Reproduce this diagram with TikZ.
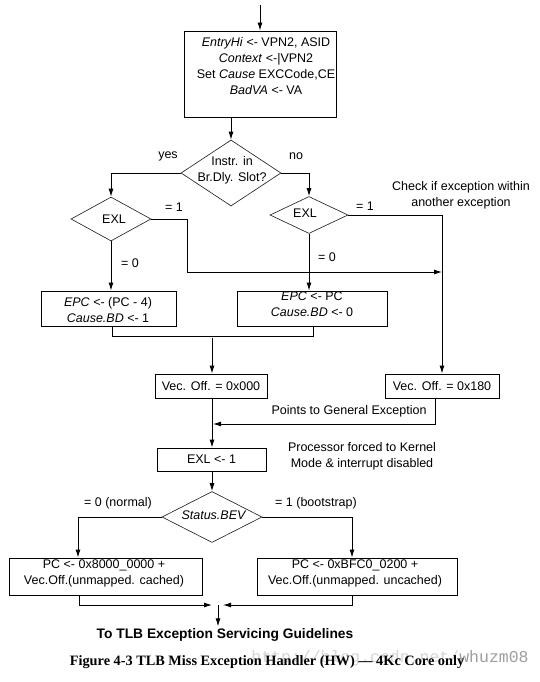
\documentclass[tikz,border=0pt]{standalone}
\usepackage{fontspec}
\setmainfont{Liberation Sans}
\newfontfamily\capfont{Liberation Serif}
\newfontfamily\wmfont{Liberation Mono}
\usetikzlibrary{shapes.geometric,arrows.meta}
\begin{document}
\begin{tikzpicture}[x=1pt,y=-1pt,
  every node/.style={font=\fontsize{12.5}{16}\selectfont},
  box/.style={draw, line width=0.9pt, inner sep=0pt},
  dia/.style={draw=black!85, diamond, line width=0.65pt, inner sep=0pt},
  lbl/.style={inner sep=0pt, align=center},
  ln/.style={line width=0.9pt},
  arr/.style={ln, -{Latex[length=8pt,width=5pt]}},
]
\useasboundingbox (0,0) rectangle (540,682);
\fill[white] (0,0) rectangle (540,682);

% top block
\coordinate (start) at (260,5);
\node[box, minimum width=152pt, minimum height=86pt] (b1) at (260,74) {};
\node[lbl] (b1t) at (266,66) {\textit{EntryHi} <- VPN2, ASID\\ \textit{Context} <-|VPN2\\ Set \textit{Cause} EXCCode,CE\\ \textit{BadVA} <- VA};
\draw[arr] (start) -- (b1.north);

% branch-delay diamond
\node[dia, minimum width=100pt, minimum height=66pt] (d1) at (231,173) {};
\node[lbl] (d1t) at (232,170) {Instr. in\\Br.Dly. Slot?};
\draw[arr] (d1.north |- b1.south) -- (d1.north);
\node[lbl] (yes) at (168,156) {yes};
\node[lbl] (no) at (296,156) {no};

% EXL diamonds
\node[dia, minimum width=80pt, minimum height=44pt] (eL) at (111,219) {};
\node[lbl] (eLt) at (114,219) {EXL};
\node[dia, minimum width=78pt, minimum height=37pt] (eR) at (309,215) {};
\node[lbl] (eRt) at (305,213) {EXL};
\draw[arr] (d1.west) -| (eL.north);
\draw[arr] (d1.east) -| (eR.north);

\node[lbl] (l1a) at (174,207) {= 1};
\node[lbl] (l1b) at (365,206) {= 1};
\node[lbl] (l0a) at (130,263) {= 0};
\node[lbl] (l0b) at (327,257) {= 0};
\node[lbl] (chk) at (461,195) {Check if exception within\\another exception};

% Vec boxes
\node[box, minimum width=112pt, minimum height=24pt] (v000) at (211,386) {Vec. Off. = 0x000};
\node[box, minimum width=114pt, minimum height=24pt] (v180) at (442,386) {Vec. Off. = 0x180};

\coordinate (c1) at (187,219);
\coordinate (c2) at (187,272);
\coordinate (c3) at (442,272);
\draw[arr] (eL.east) -- (c1) -- (c2) -- (c3);
\draw[arr] (eR.east) -| (v180.north);

% EPC boxes
\node[box, minimum width=135pt, minimum height=35pt] (epcL) at (108.5,308.5) {};
\node[lbl] (epcLt) at (108,310) {\textit{EPC} <- (PC - 4)\\\textit{Cause.BD} <- 1};
\node[box, minimum width=150pt, minimum height=35pt] (epcR) at (312,308.5) {};
\node[lbl] (epcRt) at (312,304.5) {\textit{EPC} <- PC\\\textit{Cause.BD} <- 0};
\draw[arr] (eL.south) -- (eL.south |- epcL.north);
\draw[arr] (eR.south) -- (eR.south |- epcR.north);

\coordinate (jl) at (112,336);
\coordinate (jr) at (313,336);
\coordinate (jm) at (212,338);
\draw[ln] (epcL.south -| jl) -- (jl) -- (jr) -- (epcR.south -| jr);
\draw[arr] (jm) -- (jm |- v000.north);

% general exception path
\coordinate (p1) at (435,424);
\coordinate (p2) at (213,424);
\draw[arr] (v180.south -| p1) -- (p1) -- (p2);
\node[lbl] (pge) at (349,411) {Points to General Exception};

% EXL <- 1
\node[box, minimum width=109pt, minimum height=23pt] (exl) at (211.5,459.5) {EXL <- 1};
\draw[arr] (v000.south -| jm) -- (jm |- exl.north);
\node[lbl] (proc) at (362,456) {Processor forced to Kernel\\Mode \& interrupt disabled};

% BEV
\node[dia, minimum width=100pt, minimum height=51pt] (bev) at (212,517) {};
\node[lbl] (bevt) at (214,515) {\textit{Status.BEV}};
\draw[arr] (exl.south -| jm) -- (jm |- bev.north);
\node[lbl] (n0) at (118,503) {= 0 (normal)};
\node[lbl] (n1) at (316,503) {= 1 (bootstrap)};

% PC boxes
\node[box, minimum width=193pt, minimum height=37pt] (pcL) at (105.5,576.5) {};
\node[lbl] (pcLt) at (104,573) {PC <- 0x8000\_0000 +\\Vec.Off.(unmapped. cached)};
\node[box, minimum width=200pt, minimum height=37pt] (pcR) at (357,576.5) {};
\node[lbl] (pcRt) at (355,573) {PC <- 0xBFC0\_0200 +\\Vec.Off.(unmapped. uncached)};
\draw[arr] (bev.west) -| ([xshift=-27.5pt]pcL.north);
\draw[arr] (bev.east) -| ([xshift=-5pt]pcR.north);

% bottom join
\coordinate (kL) at (79,605);
\coordinate (kR) at (352,605);
\coordinate (kl) at (212,605);
\coordinate (kr) at (223,605);
\coordinate (km) at (218,605);
\node[lbl, font=\bfseries\fontsize{13.8}{16}\selectfont] (title) at (225,635) {To TLB Exception Servicing Guidelines};
\draw[arr] (pcL.south -| kL) -- (kL) -- (kl);
\draw[arr] (pcR.south -| kR) -- (kR) -- (kr);
\draw[arr] (km) -- ([yshift=2pt]km |- title.north);

% watermark and caption
\node[lbl, font=\wmfont\fontsize{16.5}{16}\selectfont] (wm) at (390,658) {\textcolor{black!16}{http://blog.csdn.net/}\textcolor{black!38}{whuzm08}};
\node[lbl, font=\capfont\bfseries\fontsize{14.3}{16}\selectfont] (cap) at (267,662) {Figure 4-3 TLB Miss Exception Handler (HW) \textemdash\ 4Kc Core only};
\end{tikzpicture}
\end{document}
